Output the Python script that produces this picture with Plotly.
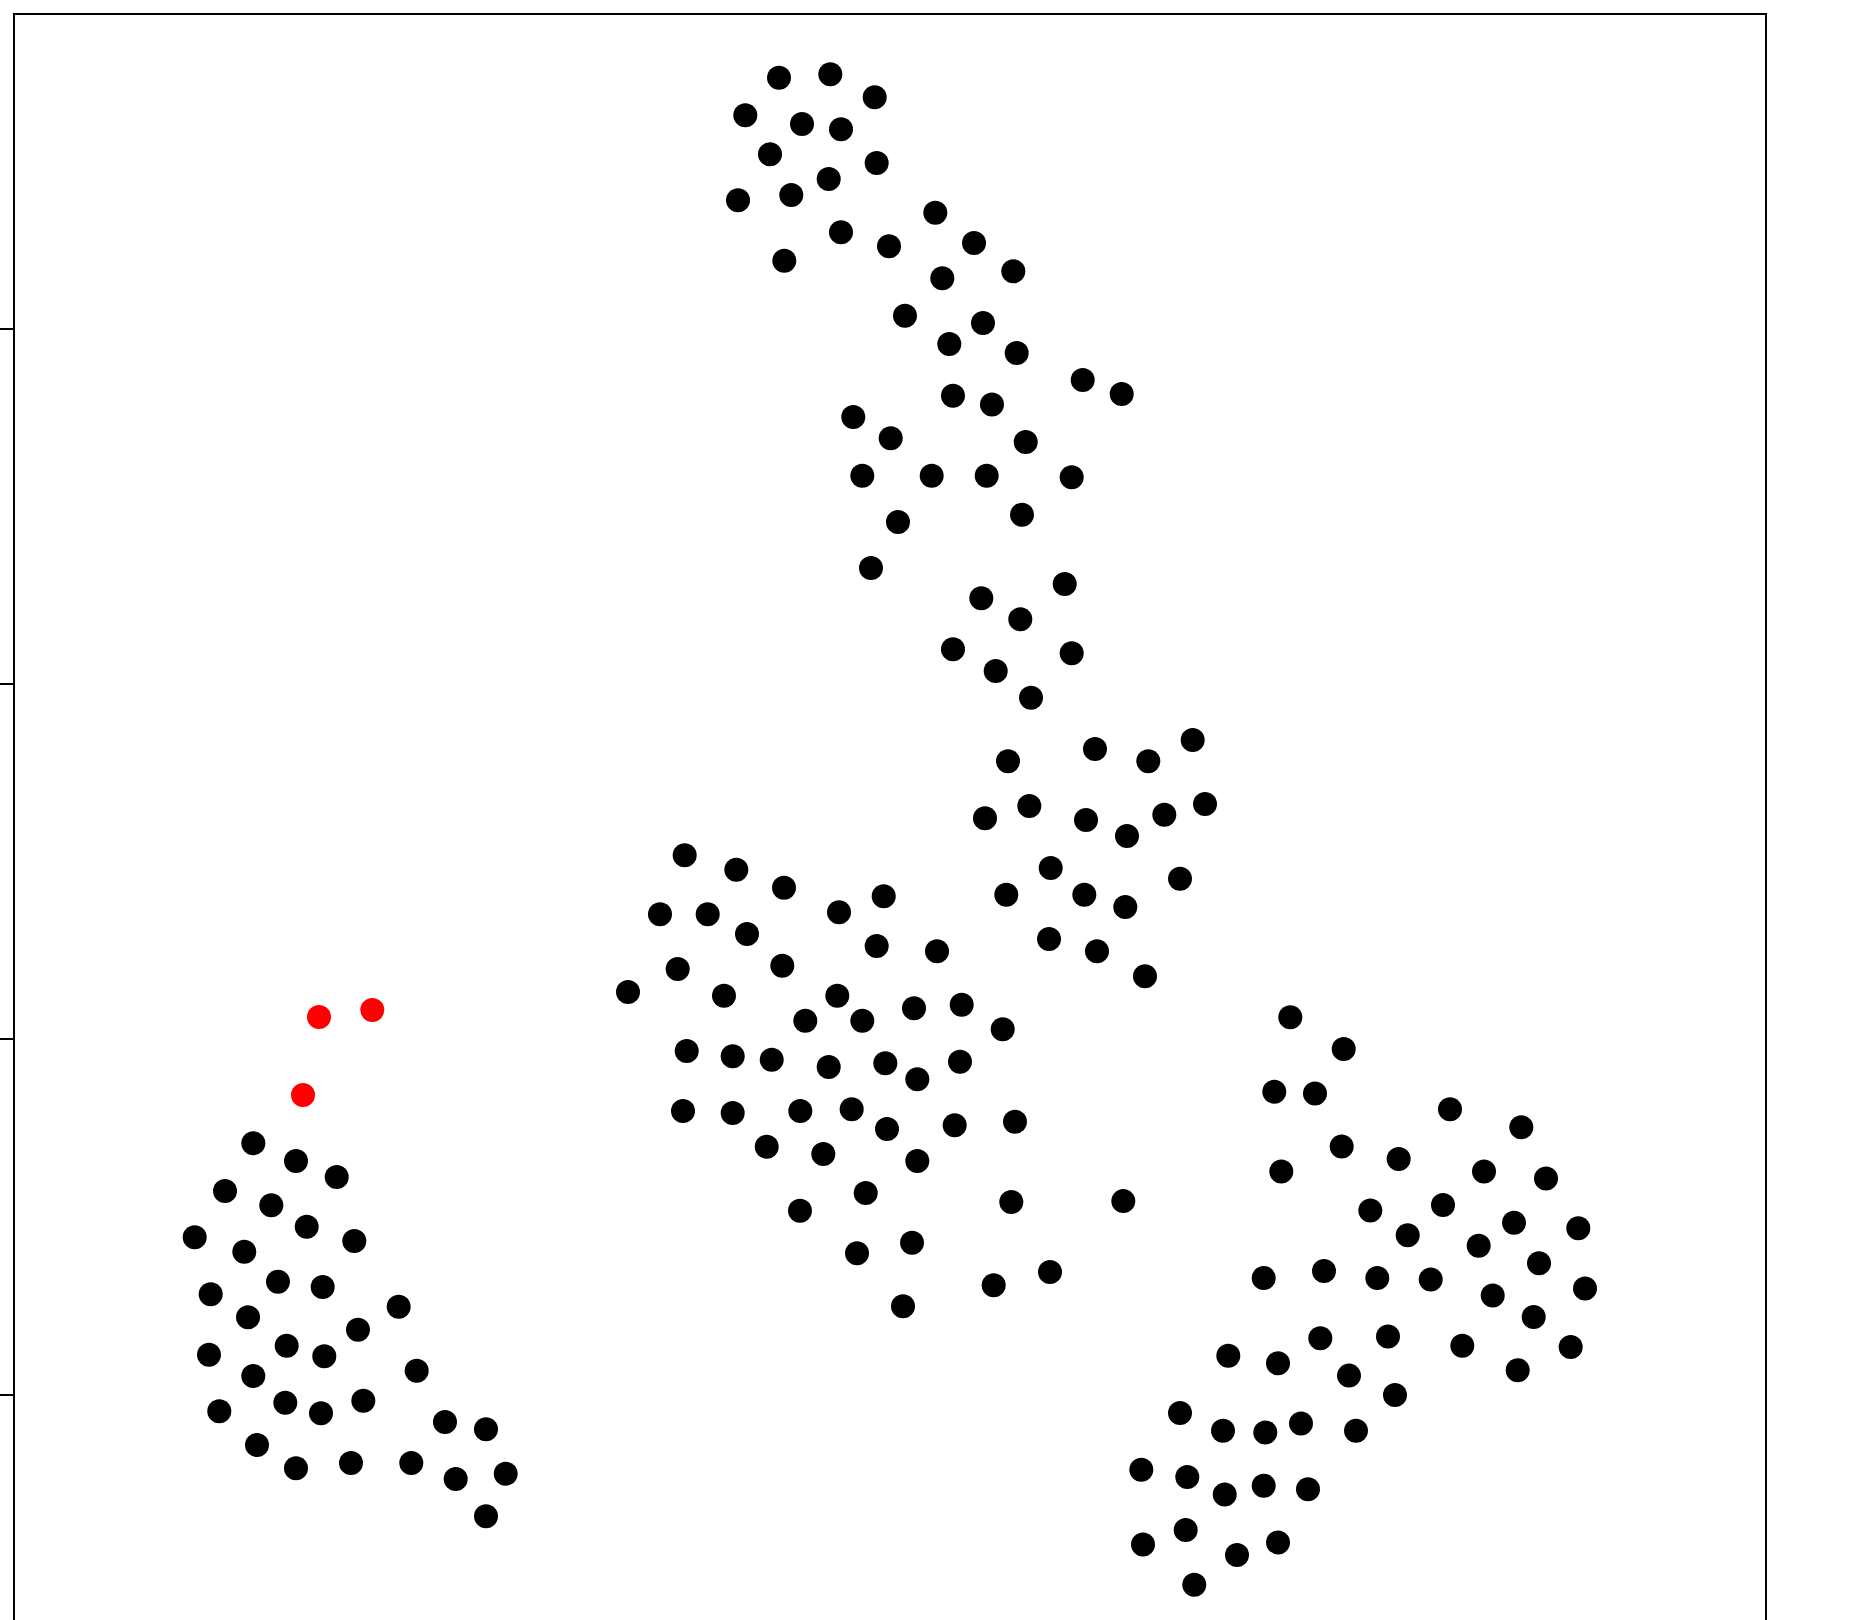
import plotly.graph_objects as go

# ---- data (t-SNE-like embedding coordinates) ----
black_x = [
    # upper band
    -3.126, -1.681, -0.431, -4.075, -2.478, -1.380, -3.379, -0.375, -1.726, -4.280,
    -2.780, 1.276, -1.380, -0.028, 2.366, -2.977, 3.472, 1.473, 0.422, 2.619,
    1.670, 3.568, 5.427, 6.525, 1.774, 2.872, -1.034, 0.020, 3.822, -0.780,
    1.174, 2.723, 5.117, 0.225, 3.717, -0.535, 4.920, 2.571, 3.669, 1.774,
    5.117, 2.977, 3.971,
    # middle-right group
    3.323, 5.773, 7.274, 8.524, 8.871, 3.923, 2.675, 5.520, 7.725, 6.674,
    4.526, 8.167, 3.275, 5.472, 6.626, 4.478, 5.829, 7.181,
    # centre group
    -5.782, -4.328, -2.985, -0.177, -6.477, -5.134, -1.436, -4.027, -0.375, 1.324,
    -5.979, -3.033, -7.378, -4.675, -1.484, 0.676, 2.019, -2.385, -0.780, 3.174,
    -5.725, -4.430, -3.331, -1.726, -0.132, 0.769, 1.971, -5.829, -4.430, -2.526,
    -1.079, -0.084, 1.822, 3.520, -3.472, -1.878, 0.769, -0.684, 3.416, -2.535,
    0.620, -0.929, 2.920, 0.366, 4.506,
    # left group
    -17.930, -16.728, -15.581, -18.727, -17.423, -16.426, -19.580, -18.184, -15.086, -17.235,
    -15.976, -19.130, -18.079, -13.836, -14.982, -16.990, -15.931, -19.178, -17.930, -13.329,
    -18.888, -17.029, -16.024, -14.832, -12.532, -11.377, -17.826, -16.728, -15.179, -13.481,
    -12.230, -10.822, -11.377,
    # right group
    11.273, 12.777, 10.822, 11.968, 15.770, 17.778, 12.720, 14.325, 11.019, 16.728,
    18.474, 6.570, 13.526, 15.573, 14.579, 17.573, 19.383, 16.578, 18.277, 10.524,
    12.222, 13.723, 15.227, 16.973, 19.572, 18.127, 12.118, 14.024, 16.117, 19.169,
    9.527, 10.927, 12.926, 17.677, 14.221, 8.167, 9.378, 10.569, 11.574, 13.123,
    7.077, 8.372, 9.426, 10.524, 11.771, 8.327, 7.125, 10.927, 9.772, 8.569,
]
black_y = [
    # upper band
    27.083, 27.178, 26.531, 26.024, 25.779, 25.630, 24.925, 24.680, 24.230, 23.630,
    23.779, 23.281, 22.729, 22.335, 22.427, 21.929, 21.630, 21.433, 20.380, 20.175,
    19.583, 19.330, 18.569, 18.175, 18.127, 17.879, 17.528, 16.928, 16.823, 15.874,
    15.874, 15.874, 15.829, 14.571, 14.776, 13.275, 12.825, 12.422, 11.830, 10.986,
    10.873, 10.375, 9.623,
    # middle-right group
    7.832, 8.178, 7.832, 8.431, 6.629, 6.573, 6.226, 6.179, 6.328, 5.728,
    4.827, 4.526, 4.075, 4.075, 3.729, 2.827, 2.481, 1.777,
    # centre group
    5.184, 4.779, 4.272, 4.030, 3.523, 3.523, 3.579, 2.968, 2.630, 2.481,
    1.983, 2.075, 1.335, 1.231, 1.231, 0.876, 0.977, 0.527, 0.527, 0.284,
    -0.327, -0.476, -0.572, -0.777, -0.673, -1.124, -0.628, -2.016, -2.073, -2.016,
    -1.968, -2.523, -2.419, -2.318, -3.022, -3.227, -3.424, -4.326, -4.579, -4.824,
    -5.725, -6.024, -6.925, -7.516, -6.550,
    # left group
    -2.926, -3.424, -3.875, -4.269, -4.672, -5.275, -5.573, -5.979, -5.677, -6.823,
    -6.973, -7.178, -7.826, -7.527, -8.175, -8.626, -8.924, -8.879, -9.479, -9.330,
    -10.473, -10.231, -10.529, -10.175, -10.774, -10.980, -11.422, -12.078, -11.929, -11.929,
    -12.380, -12.230, -13.430,
    # right group
    0.625, -0.270, -1.476, -1.521, -1.968, -2.473, -3.019, -3.371, -3.720, -3.720,
    -3.917, -4.554, -4.816, -4.663, -5.517, -5.165, -5.320, -5.812, -6.305, -6.719,
    -6.522, -6.719, -6.764, -7.212, -7.015, -7.815, -8.417, -8.364, -8.626, -8.660,
    -8.910, -9.119, -9.468, -9.316, -10.017, -10.521, -11.022, -11.067, -10.817, -11.022,
    -12.118, -12.326, -12.819, -12.568, -12.667, -13.816, -14.221, -14.165, -14.517, -15.359,
]

red_x = [-16.080, -14.579, -16.530]
red_y = [0.631, 0.828, -1.566]

y_tick_values = [-10, 0, 10, 20]

fig = go.Figure()
fig.add_trace(go.Scatter(
    x=black_x, y=black_y, mode="markers",
    marker=dict(color="#000000", size=24, line=dict(width=0)),
    showlegend=False, hoverinfo="skip",
))
fig.add_trace(go.Scatter(
    x=red_x, y=red_y, mode="markers",
    marker=dict(color="#FF0000", size=24, line=dict(width=0)),
    showlegend=False, hoverinfo="skip",
))

fig.update_layout(
    width=1850, height=1620,
    margin=dict(l=15, r=85, t=15, b=0, pad=0),
    paper_bgcolor="white", plot_bgcolor="white",
    xaxis=dict(
        range=[-24.641, 24.641], side="top",
        showline=True, linecolor="black", linewidth=2, mirror=False,
        showgrid=False, zeroline=False, ticks="", showticklabels=False,
    ),
    yaxis=dict(
        range=[-16.350, 28.848],
        showline=True, linecolor="black", linewidth=2, mirror=True,
        showgrid=False, zeroline=False,
        tickvals=y_tick_values, ticks="outside", ticklen=14, tickwidth=2,
        tickcolor="black", showticklabels=False,
    ),
)

fig.write_html(
    "out.html",
    config={"displayModeBar": False},
    post_script="document.body.style.margin='0';",
)
